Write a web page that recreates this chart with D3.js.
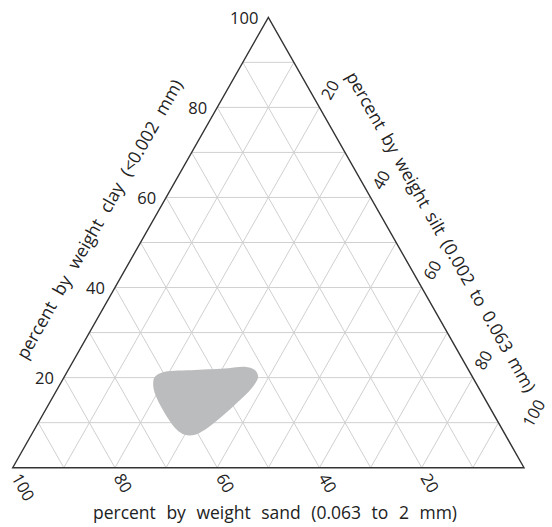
<!DOCTYPE html>
<html><head><meta charset="utf-8">
<script src="https://cdn.jsdelivr.net/npm/d3@7"></script>
<style>
html,body{margin:0;padding:0;background:#fff;}
svg{display:block;font-family:"Open Sans",Lato,sans-serif;}
</style></head>
<body>
<script>
// ---- data ----
const gridSteps = [10,20,30,40,50,60,70,80,90];
const clayTicks = [20,40,60,80,100];
const sandTicks = [100,80,60,40,20];
const siltTicks = [20,40,60,80,100];
const clayTitle = "percent by weight clay (<0.002 mm)";
const siltTitle = "percent by weight silt (0.002 to 0.063 mm)";
const sandTitle = "percent by weight sand (0.063 to 2 mm)";
// region outline (sand, silt, clay in %)
const regionSand = [61.5,59.6,53.5,46.8,43.4,41.8,41.9,44.5,48.5,53.5,58.2,60.7,62.7,63.7,64.2,64.1,63.5,62.4];
const regionSilt = [17.9,19.1,24.8,31.1,34.2,36.5,37.9,37.9,36.8,35.2,33.4,32.0,30.0,27.9,23.7,20.5,18.5,17.7];
const regionClay = [20.6,21.3,21.7,22.1,22.4,21.7,20.2,17.6,14.7,11.3,8.4,7.3,7.3,8.4,12.1,15.4,18.0,19.9];

const W = 552, H = 527;
const svg = d3.select("body").append("svg").attr("width",W).attr("height",H);

const xs = d3.scaleLinear().domain([0,100]).range([12.7,524]);
const ys = d3.scaleLinear().domain([0,100]).range([467.7,17.3]);
function pt(sand, silt, clay){ return [xs(silt + clay/2), ys(clay)]; }

const angle = Math.atan2(ys(0)-ys(100), xs(50)-xs(0)) * 180/Math.PI; // ~60.4

// grid
const g = svg.append("g");
const gridLines = [];
gridSteps.forEach(v=>{
  gridLines.push([pt(100-v,0,v), pt(0,100-v,v)]);       // clay
  gridLines.push([pt(100-v,v,0), pt(0,v,100-v)]);       // silt
  gridLines.push([pt(v,100-v,0), pt(v,0,100-v)]);       // sand
});
g.selectAll("line.grid").data(gridLines).join("line")
  .attr("x1",d=>d[0][0]).attr("y1",d=>d[0][1])
  .attr("x2",d=>d[1][0]).attr("y2",d=>d[1][1])
  .attr("stroke","#d0d0d0").attr("stroke-width",1);

// region
const regionPts = regionSand.map((s,i)=>pt(s, regionSilt[i], regionClay[i]));
svg.append("path")
  .attr("d", d3.line().curve(d3.curveCatmullRomClosed.alpha(0.5))(regionPts))
  .attr("fill","#bbbcbe").attr("stroke","none");

// frame
const corners = [pt(100,0,0), pt(0,100,0), pt(0,0,100)];
svg.append("path").attr("d", d3.line()(corners)+"Z")
  .attr("fill","none").attr("stroke","#333").attr("stroke-width",1.4);

// ticks
const tf = 16.5;
svg.selectAll("text.clay").data(clayTicks).join("text")
  .attr("x", d=>pt(100-d,0,d)[0]-10)
  .attr("y", d=>pt(100-d,0,d)[1])
  .attr("text-anchor","end").attr("dominant-baseline","central")
  .attr("font-size",tf).attr("fill","#222").text(d=>d);

svg.selectAll("text.sand").data(sandTicks).join("text")
  .attr("transform", d=>{const p=pt(d,100-d,0); return `translate(${p[0]},${p[1]}) rotate(${angle})`;})
  .attr("x",8).attr("y",0)
  .attr("text-anchor","start").attr("dominant-baseline","central")
  .attr("font-size",tf).attr("fill","#222").text(d=>d);

svg.selectAll("text.silt").data(siltTicks).join("text")
  .attr("transform", d=>{const p=pt(0,d,100-d); return `translate(${p[0]},${p[1]}) rotate(${-angle})`;})
  .attr("x",d=> d===100 ? 38 : 11).attr("y",d=> d===100 ? -19 : 0)
  .attr("text-anchor","start").attr("dominant-baseline","central")
  .attr("font-size",tf).attr("fill","#222").text(d=>d);

// titles
const tt = 17.5;
function edgeTitle(a, b, frac, out, rot, txt, ws){
  const px = a[0]+(b[0]-a[0])*frac, py = a[1]+(b[1]-a[1])*frac;
  const dx=b[0]-a[0], dy=b[1]-a[1], L=Math.hypot(dx,dy);
  let nx = dy/L, ny = -dx/L;
  const cx = (corners[0][0]+corners[1][0]+corners[2][0])/3, cy=(corners[0][1]+corners[1][1]+corners[2][1])/3;
  if ((px-cx)*nx + (py-cy)*ny < 0){ nx=-nx; ny=-ny; }
  svg.append("text")
    .attr("transform",`translate(${px+nx*out},${py+ny*out}) rotate(${rot})`)
    .attr("text-anchor","middle").attr("dominant-baseline","central")
    .attr("font-size",tt).attr("fill","#222").attr("word-spacing",ws+"px").text(txt);
}
edgeTitle(corners[0], corners[2], 0.50, 48, -angle, clayTitle, 6);
edgeTitle(corners[2], corners[1], 0.525, 45, angle, siltTitle, 3.5);
svg.append("text").attr("x", 275).attr("y", 512)
  .attr("text-anchor","middle").attr("dominant-baseline","central")
  .attr("font-size",tt).attr("fill","#222").attr("word-spacing","6px").text(sandTitle);
</script>
</body></html>
